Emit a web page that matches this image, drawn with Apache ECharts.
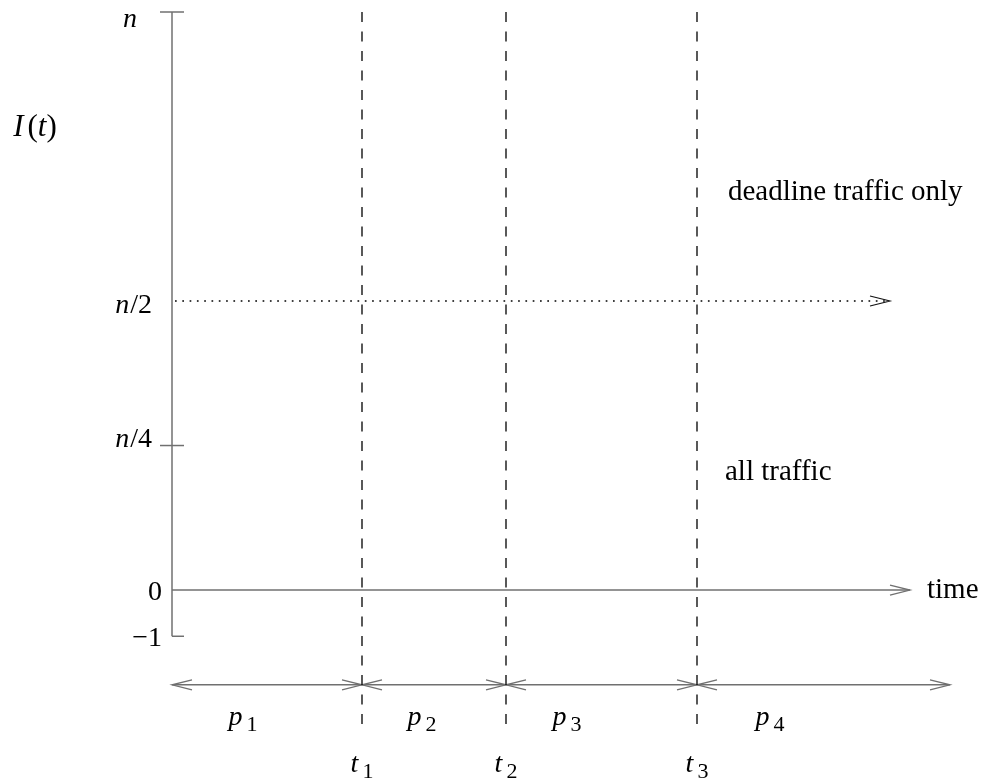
<!DOCTYPE html>
<html>
<head>
<meta charset="utf-8">
<script src="https://cdn.jsdelivr.net/npm/echarts@6.0.0/dist/echarts.min.js"></script>
<style>
html, body { margin: 0; padding: 0; background: #fff; }
#chart { width: 982px; height: 778px; }
</style>
</head>
<body>
<div id="chart"></div>
<script>
// 纵轴 (n = 12.5 个单位)
const N = 12.5
const yTickValues = [-1, 0, N / 4, N / 2, N]
const yTickLabels = ['−1', '0', 'n/4', 'n/2', 'n']
const tickValues = [N, N / 4, -1]
const tickBothSides = [1, 1, 0]

// 时间轴
const timeEnd = 73.8
const halfLineEnd = 71.8
const tMarks = [19.0, 33.4, 52.5]
const tNames = ['1', '2', '3']
const dashTop = N
const dashBottom = -3.1
const periodLevel = -2.05
const periodEnd = 77.8
const pCenters = [7.1, 25.0, 39.5, 59.8]
const pNames = ['1', '2', '3', '4']
const pLevel = -2.77
const tLevel = -3.78

// 文字标注
const notes = ['deadline traffic only', 'all traffic', 'time']
const noteX = [55.6, 55.3, 75.5]
const noteY = [8.59, 2.55, 0]
const yName = ['I', '(', 't', ')']
const yNameAt = [-13.7, 10.0]

const FONT = "'Liberation Serif', 'Times New Roman', serif"
const AXIS_COLOR = '#707070'
// 标签右侧间距与上下偏移 (像素)
const labelGap = [2, 2, 12, 12, 27]
const labelDy = [2, 3, -6, 5, 8]

const chart = echarts.init(document.getElementById('chart'))

// y 轴标签: n 用斜体
const yRich = {}
labelGap.forEach((g, i) => {
  const dy = labelDy[i]
  const top = dy > 0 ? 2 * dy : 0
  const bottom = dy < 0 ? -2 * dy : 0
  const base = { fontFamily: FONT, fontSize: 28, color: '#000' }
  yRich['it' + i] = Object.assign({}, base, { fontStyle: 'italic', padding: [top, g, bottom, 0] })
  yRich['i' + i] = Object.assign({}, base, { fontStyle: 'italic', padding: [top, 1, bottom, 0] })
  yRich['up' + i] = Object.assign({}, base, { padding: [top, g, bottom, 0] })
})
const yFormatter = (value) => {
  const i = yTickValues.indexOf(value)
  if (i < 0) return ''
  const s = yTickLabels[i]
  if (s[0] !== 'n') return '{up' + i + '|' + s + '}'
  if (s.length === 1) return '{it' + i + '|n}'
  return '{i' + i + '|n}{up' + i + '|' + s.slice(1) + '}'
}

const subRich = {
  v: { fontFamily: FONT, fontSize: 28, fontStyle: 'italic', color: '#000' },
  s: { fontFamily: FONT, fontSize: 22, color: '#000', padding: [14, 0, 0, 4] },
  t: { fontFamily: FONT, fontSize: 31, color: '#000' },
  tv: { fontFamily: FONT, fontSize: 31, fontStyle: 'italic', color: '#000' },
  ti: { fontFamily: FONT, fontSize: 31, fontStyle: 'italic', color: '#000', padding: [0, 4, 0, 0] }
}

const segment = (pts, style) => ({
  type: 'line',
  data: pts,
  symbol: 'none',
  silent: true,
  clip: false,
  lineStyle: style
})

const arrowHead = (color, width) => ({
  type: 'custom',
  silent: true,
  clip: false,
  renderItem: (params, api) => {
    const p = api.coord([api.value(0), api.value(1)])
    const d = api.value(2)
    return {
      type: 'polyline',
      shape: { points: [[p[0] - d * 20, p[1] - 5], p, [p[0] - d * 20, p[1] + 5]] },
      style: { stroke: color, fill: null, lineWidth: width }
    }
  }
})

const periodArrows = [[0, periodLevel, -1], [periodEnd, periodLevel, 1]]
tMarks.forEach(t => {
  periodArrows.push([t, periodLevel, 1])
  periodArrows.push([t, periodLevel, -1])
})

const option = {
  animation: false,
  grid: { left: 172, right: 32, top: 12, bottom: 3, containLabel: false, outerBoundsMode: 'none' },
  xAxis: {
    type: 'value',
    min: 0,
    max: periodEnd,
    axisLine: { show: false },
    axisTick: { show: false },
    axisLabel: { show: false },
    splitLine: { show: false }
  },
  yAxis: {
    type: 'value',
    min: -4,
    max: N,
    axisLine: { show: false },
    axisTick: { show: false },
    splitLine: { show: false },
    axisLabel: {
      customValues: yTickValues,
      margin: 8,
      formatter: yFormatter,
      rich: yRich
    }
  },
  series: [
    // y 轴线
    segment([[0, -1], [0, N]], { color: AXIS_COLOR, width: 1.5 }),
    // 时间轴
    segment([[0, 0], [timeEnd, 0]], { color: AXIS_COLOR, width: 1.5 }),
    // 周期线
    segment([[0, periodLevel], [periodEnd, periodLevel]], { color: AXIS_COLOR, width: 1.5 }),
    // n/2 点线
    segment([[0.3, N / 2], [halfLineEnd, N / 2]], { color: '#000', width: 1.7, type: [1.7, 5.6] }),
    // t1..t3 竖虚线
    ...tMarks.map(t => segment([[t, dashTop], [t, dashBottom]], { color: '#000', width: 1.3, type: [10, 9.5] })),
    // 刻度
    {
      type: 'custom',
      silent: true,
      clip: false,
      renderItem: (params, api) => {
        const p = api.coord([0, api.value(0)])
        const left = api.value(1) ? 12 : 0
        return {
          type: 'line',
          shape: { x1: p[0] - left, y1: p[1], x2: p[0] + 12, y2: p[1] },
          style: { stroke: AXIS_COLOR, lineWidth: 1.5 }
        }
      },
      data: tickValues.map((v, i) => [v, tickBothSides[i]])
    },
    Object.assign(arrowHead(AXIS_COLOR, 1.3), { data: [[timeEnd, 0, 1]].concat(periodArrows) }),
    Object.assign(arrowHead('#111', 1.1), { data: [[halfLineEnd, N / 2, 1]] }),
    // 文字
    {
      type: 'scatter',
      symbolSize: 0,
      silent: true,
      clip: false,
      itemStyle: { opacity: 1 },
      label: {
        show: true,
        position: 'inside',
        formatter: p => p.name,
        rich: subRich
      },
      data: [
        ...pCenters.map((x, i) => ({ value: [x, pLevel], name: '{v|p}{s|' + pNames[i] + '}' })),
        ...tMarks.map((x, i) => ({ value: [x, tLevel], name: '{v|t}{s|' + tNames[i] + '}' })),
        { value: yNameAt, name: '{ti|' + yName[0] + '}{t|' + yName[1] + '}{tv|' + yName[2] + '}{t|' + yName[3] + '}' }
      ]
    },
    {
      type: 'scatter',
      symbolSize: 0,
      silent: true,
      clip: false,
      itemStyle: { opacity: 1 },
      label: {
        show: true,
        position: 'right',
        distance: 0,
        fontFamily: FONT,
        fontSize: 29,
        color: '#000',
        formatter: p => p.name
      },
      data: notes.map((s, i) => ({ value: [noteX[i], noteY[i]], name: s }))
    }
  ]
}

chart.setOption(option)
window.addEventListener('resize', () => chart.resize())
</script>
</body>
</html>
